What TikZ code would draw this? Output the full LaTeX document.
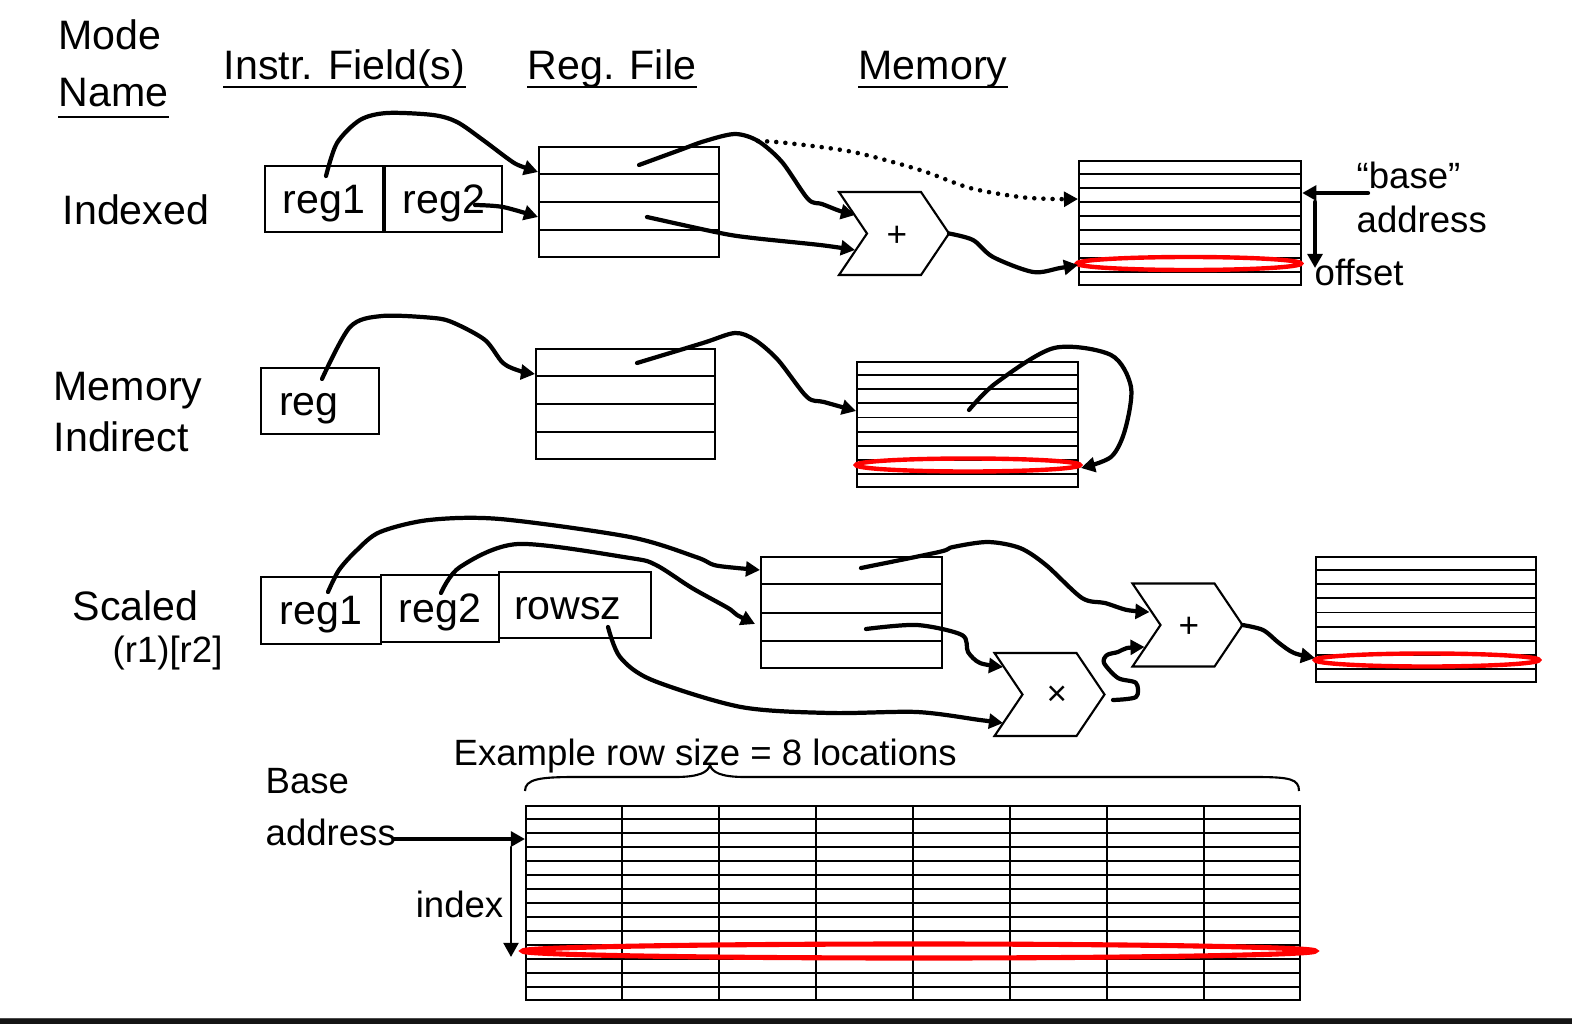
\documentclass[tikz,border=0pt]{standalone}
\usepackage{fontspec}
\setmainfont{Liberation Sans}
\usetikzlibrary{arrows.meta,calc,positioning}

\tikzset{
  title/.style={font=\fontsize{11.7}{14}\selectfont,inner sep=0,anchor=base west},
  note/.style={font=\fontsize{10.4}{12}\selectfont,inner sep=0,anchor=base west},
  field/.style={draw,line width=0.6pt,inner sep=0,anchor=north west,text height=0.28cm,text depth=0pt,font=\fontsize{11.7}{14}\selectfont},
  bank/.style={draw,line width=0.6pt,inner sep=0,anchor=north west},
  cell/.style={line width=0.55pt},
  opline/.style={line width=0.6pt,line join=miter},
  op/.style={font=\fontsize{10}{12}\selectfont,inner sep=0},
  wire/.style={line width=1.2pt,line cap=round,line join=round,-{Triangle[length=4pt,width=4.2pt]}},
  hit/.style={draw=red,line width=1.25pt},
}

\begin{document}
\begin{tikzpicture}[x=0.01cm,y=-0.01cm]
    \useasboundingbox (0,0) rectangle (1572,1024);

    \node[title] (hmode)  at (58,50)  {Mode};
    \node[title] (hname)  at (58,106) {Name};
    \node[title] (hinstr) at (223,80) {Instr. Field(s)};
    \node[title] (hreg)   at (527,80) {Reg. File};
    \node[title] (hmem)   at (858,80) {Memory};
    \draw[line width=0.6pt] ($(hname.base west)+(0,11)$) -- ($(hname.base east)+(0,11)$);
    \foreach \h in {hinstr,hreg,hmem}
        \draw[line width=0.6pt] ($(\h.base west)+(0,7)$) -- ($(\h.base east)+(0,7)$);

    % indexed
    \node[title] (lidx) at (62,224) {Indexed};
    \node[field,minimum width=1.18cm,minimum height=0.66cm] (ireg1) at (264,165) {reg1};
    \node[field,minimum width=1.17cm,minimum height=0.66cm,right=0pt of ireg1] (ireg2) {reg2};
    \node[bank,minimum width=1.8cm,minimum height=1.1cm] (irf) at (538,146) {};
    \node[bank,minimum width=2.22cm,minimum height=1.24cm] (imem) at (1078,160) {};
    \foreach \k in {1,2,3}
        \draw[cell] ($(irf.north west)!\k/4!(irf.south west)$) -- ($(irf.north east)!\k/4!(irf.south east)$);
    \foreach \k in {1,...,8}
        \draw[cell] ($(imem.north west)!\k/9!(imem.south west)$) -- ($(imem.north east)!\k/9!(imem.south east)$);
    \draw[hit] (1189,263.5) ellipse [x radius=1.12cm,y radius=0.065cm];
    \coordinate (iadd) at (894,233.5);
    \node[op] (iaddop) at (897,236) {+};
    \node[note] (tbase) at (1356,188) {“base”};
    \node[note] (taddr) at (1356,232) {address};
    \node[note] (toff)  at (1314,285) {offset};

    \coordinate (ia0) at (326,176);
    \coordinate (ia1) at (538,172);
    \coordinate (ib0) at (475,205);
    \coordinate (ib1) at (538,217);
    \coordinate (ic0) at (639,165);
    \coordinate (ifork) at (758,141);
    \coordinate (id0) at (647,217);
    \coordinate (iadd-in1) at ($(iadd)+(-39,-18.5)$);
    \coordinate (iadd-in2) at ($(iadd)+(-39,16.5)$);
    \coordinate (iadd-out) at ($(iadd)+(55,0)$);
    \coordinate (imem-a) at (1078,199);
    \coordinate (imem-b) at (1078,265);
    \coordinate (ibase) at (1368,193);
    \coordinate (ioff0) at (1315,202);
    \coordinate (ioff1) at (1315,268);

    \draw[wire] plot[smooth] coordinates {(ia0) (337,143) (360,120) (387,113) (433,115) (457,122) (483,140) (507,158) (518,165) (ia1)};
    \draw[wire] plot[smooth] coordinates {(ib0) (503,207) (ib1)};
    \draw[wire] plot[smooth] coordinates {(ic0) (680,150) (705,141) (735,134) (ifork) (782,162) (808,199) (822,204) (840,211) (iadd-in1)};
    \draw[wire,line width=1.3pt,dash pattern=on 0pt off 2.6pt] plot[smooth] coordinates {(ifork) (787,143) (853,152) (920,170) (970,188) (1020,197) (1053,199) (imem-a)};
    \draw[wire] plot[smooth] coordinates {(id0) (720,233) (753,238) (820,245) (iadd-in2)};
    \draw[wire] plot[smooth] coordinates {(iadd-out) (973,240) (993,257) (1033,272) (1060,268) (imem-b)};
    \draw[wire] (ibase) -- (imem.east |- ibase);
    \draw[wire] (ioff0) -- (ioff1);

    % memory indirect
    \node[title] (lmem1) at (53,400) {Memory};
    \node[title] (lmem2) at (53,451) {Indirect};
    \node[field,inner xsep=0.18cm,text width=0.82cm,align=left,minimum height=0.66cm] (mreg) at (260,367) {reg};
    \node[bank,minimum width=1.79cm,minimum height=1.1cm] (mrf) at (535,348) {};
    \node[bank,minimum width=2.21cm,minimum height=1.25cm] (mmem) at (856,361) {};
    \foreach \k in {1,2,3}
        \draw[cell] ($(mrf.north west)!\k/4!(mrf.south west)$) -- ($(mrf.north east)!\k/4!(mrf.south east)$);
    \foreach \k in {1,...,8}
        \draw[cell] ($(mmem.north west)!\k/9!(mmem.south west)$) -- ($(mmem.north east)!\k/9!(mmem.south east)$);
    \draw[hit] (968,465) ellipse [x radius=1.12cm,y radius=0.065cm];

    \coordinate (ma0) at (322,379);
    \coordinate (ma1) at (535,374);
    \coordinate (mb0) at (637,363);
    \coordinate (mb1) at (856,411);
    \coordinate (mc0) at (969,410);
    \coordinate (mc1) at (1081,468);
    \draw[wire] plot[smooth] coordinates {(ma0) (350,327) (382,316) (434,318) (454,323) (485,340) (503,363) (520,371) (ma1)};
    \draw[wire] plot[smooth] coordinates {(mb0) (703,343) (735,333) (755,340) (778,360) (807,397) (824,402) (mb1)};
    \draw[wire] plot[smooth] coordinates {(mc0) (996,383) (1054,348) (1111,355) (1131,387) (1125,430) (1111,457) (mc1)};

    % scaled
    \node[title] (lsc1) at (72,620) {Scaled};
    \node[note]  (lsc2) at (112,662) {(r1)[r2]};
    \node[field,minimum width=1.2cm,minimum height=0.67cm] (sreg1) at (260,576) {reg1};
    \node[field,minimum width=1.18cm,minimum height=0.67cm] (sreg2) at (380,574) {reg2};
    \node[field,inner xsep=0.15cm,text width=1.22cm,align=left,minimum height=0.66cm] (srow) at (498,571) {rowsz};
    \node[bank,minimum width=1.81cm,minimum height=1.11cm] (srf) at (760,556) {};
    \node[bank,minimum width=2.2cm,minimum height=1.25cm] (smem) at (1315,556) {};
    \foreach \k in {1,2,3}
        \draw[cell] ($(srf.north west)!\k/4!(srf.south west)$) -- ($(srf.north east)!\k/4!(srf.south east)$);
    \foreach \k in {1,...,8}
        \draw[cell] ($(smem.north west)!\k/9!(smem.south west)$) -- ($(smem.north east)!\k/9!(smem.south east)$);
    \draw[hit] (1427,660) ellipse [x radius=1.12cm,y radius=0.065cm];
    \coordinate (splus) at (1187.5,625);
    \coordinate (stimes) at (1049.5,694.5);
    \node[op] (splusop) at (1189,627) {+};
    \node[op] (stimesop) at (1057,696) {×};

    \coordinate (sa0) at (328,592);
    \coordinate (sa1) at (760,570);
    \coordinate (sb0) at (441,593);
    \coordinate (sb1) at (755,624);
    \coordinate (sc0) at (608,627);
    \coordinate (sd0) at (861,568);
    \coordinate (se0) at (866,629);
    \coordinate (stimes-in1) at ($(stimes)+(-46.5,-27.5)$);
    \coordinate (stimes-in2) at ($(stimes)+(-46.5,28.5)$);
    \coordinate (stimes-out) at ($(stimes)+(63.5,5.5)$);
    \coordinate (splus-in1) at ($(splus)+(-38,-13)$);
    \coordinate (splus-in2) at ($(splus)+(-43,22)$);
    \coordinate (splus-out) at ($(splus)+(55,0)$);
    \coordinate (smem-a) at (1315,658);
    \draw[wire] plot[smooth] coordinates {(sa0) (339,570) (357,550) (380,532) (429,520) (500,519) (630,537) (696,557) (714,565) (737,568) (sa1)};
    \draw[wire] plot[smooth] coordinates {(sb0) (460,567) (518,544) (630,558) (656,565) (692,588) (728,608) (737,615) (sb1)};
    \draw[wire] plot[smooth] coordinates {(sc0) (620,657) (652,680) (741,707) (830,713) (917,712) (980,720) (stimes-in2)};
    \draw[wire] plot[smooth] coordinates {(sd0) (939,552) (953,547) (988,542) (1020,548) (1046,565) (1082,598) (1105,603) (1127,610) (splus-in1)};
    \draw[wire] plot[smooth] coordinates {(se0) (917,625) (962,635) (968,652) (980,663) (stimes-in1)};
    \draw[wire] plot[smooth] coordinates {(stimes-out) (1136,697) (1136,683) (1118,678) (1104,663) (1107,655) (1118,652) (1127,648) (splus-in2)};
    \draw[wire] plot[smooth] coordinates {(splus-out) (1263,630) (1279,643) (1294,653) (smem-a)};

    \foreach \c in {iadd,splus,stimes}
        \draw[opline] ($(\c)+(-55,-41.5)$) -- ++(82,0) -- ++(28,41.5) -- ++(-28,41.5) -- ++(-82,0) -- ++(28,-41.5) -- cycle;

    % row example
    \node[note] (trow)   at (453,765) {Example row size = 8 locations};
    \node[note] (gbase1) at (265,793) {Base};
    \node[note] (gbase2) at (265,845) {address};
    \node[note,anchor=base east] (gindex) at (504,917) {index};
    \node[bank,line width=0.5pt,minimum width=7.74cm,minimum height=1.94cm] (grid) at (525,805) {};
    \foreach \k in {1,...,13}
        \draw[cell] ($(grid.north west)!\k/14!(grid.south west)$) -- ($(grid.north east)!\k/14!(grid.south east)$);
    \foreach \k in {1,...,7}
        \draw[line width=0.45pt] ($(grid.north west)!\k/8!(grid.north east)$) -- ($(grid.south west)!\k/8!(grid.south east)$);
    \draw[hit,line width=1.45pt] (919,951) ellipse [x radius=3.96cm,y radius=0.07cm];
    \draw[line width=0.6pt] (525,791) .. controls (525,779) and (540,777) .. (575,777) -- (675,777)
        .. controls (700,777) and (708,772) .. (710,765) .. controls (712,772) and (720,777) .. (745,777)
        -- (1255,777) .. controls (1290,777) and (1299,779) .. (1299,791);
    \coordinate (gaddr) at (394,839);
    \coordinate (gidx0) at (511,847);
    \coordinate (gidx1) at (511,957);
    \draw[wire,line width=1pt] (gaddr) -- (grid.west |- gaddr);
    \draw[wire,line width=0.8pt] (gidx0) -- (gidx1);

    \fill[black!70] (0,1018) rectangle (1572,1019.3);
    \fill[black!92] (0,1019.3) rectangle (1572,1024);
\end{tikzpicture}
\end{document}
